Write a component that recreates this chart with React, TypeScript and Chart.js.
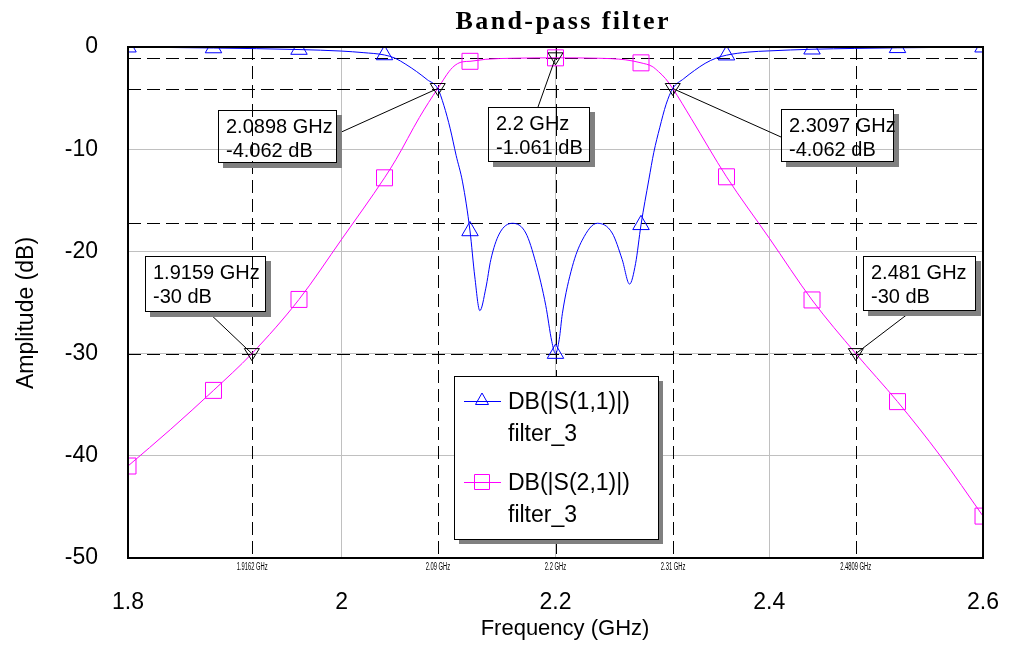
import React, { useEffect, useRef } from 'react';
import { Chart, registerables } from 'chart.js';

Chart.register(...registerables);

// ---------- data ----------
const s11Freq = [1.8, 1.84, 1.88, 1.92, 1.96, 2.0, 2.02, 2.04, 2.05, 2.06, 2.07, 2.08, 2.0898, 2.0955, 2.1015, 2.107, 2.113, 2.12, 2.1245, 2.1292, 2.1348, 2.1395, 2.1473, 2.1597, 2.1722, 2.1815, 2.1909, 2.1965, 2.2, 2.2035, 2.2064, 2.2157, 2.225, 2.239, 2.253, 2.2624, 2.2693, 2.2749, 2.28, 2.2873, 2.292, 2.2975, 2.3035, 2.3097, 2.32, 2.33, 2.34, 2.35, 2.36, 2.38, 2.4, 2.44, 2.48, 2.52, 2.56, 2.6];
const s11Db = [-0.02, -0.05, -0.1, -0.16, -0.25, -0.4, -0.55, -0.78, -1.1, -1.7, -2.4, -3.2, -4.062, -5.7, -8.0, -10.6, -13.2, -18.0, -22.5, -25.8, -23.6, -20.8, -18.3, -17.25, -18.2, -21.1, -25.3, -28.8, -30.0, -28.6, -26.1, -21.5, -18.9, -17.25, -18.2, -20.8, -23.2, -21.2, -17.4, -13.0, -10.3, -7.9, -5.6, -4.062, -3.1, -2.3, -1.6, -1.1, -0.8, -0.5, -0.38, -0.22, -0.14, -0.08, -0.04, -0.02];

const s21Freq = [1.8, 1.84, 1.88, 1.9159, 1.96, 2.0, 2.04, 2.0508, 2.0726, 2.0898, 2.1037, 2.113, 2.12, 2.1348, 2.16, 2.2, 2.24, 2.2652, 2.28, 2.2904, 2.2963, 2.303, 2.3097, 2.327, 2.36, 2.4, 2.44, 2.481, 2.52, 2.56, 2.6];
const s21Db = [-41.0, -37.4, -33.6, -30.0, -24.7, -18.8, -12.8, -11.0, -6.9, -4.062, -2.0, -1.45, -1.4, -1.2, -1.1, -1.061, -1.1, -1.25, -1.55, -1.9, -2.4, -3.1, -4.062, -7.0, -12.7, -18.7, -24.75, -30.0, -34.7, -40.0, -45.9];

// frequencies where the trace symbols are drawn
const symbolFreqs = [1.8, 1.88, 1.96, 2.04, 2.12, 2.2, 2.28, 2.36, 2.44, 2.52, 2.6];

const xTickValues = [1.8, 2.0, 2.2, 2.4, 2.6];
const xTickLabels = ['1.8', '2', '2.2', '2.4', '2.6'];
const yTickValues = [-50, -40, -30, -20, -10, 0];
const yTickLabels = ['-50', '-40', '-30', '-20', '-10', '0'];

const markerFreqs = [2.0898, 2.2, 2.3097, 1.9159, 2.481];
const markerDb = [-4.062, -1.061, -4.062, -30, -30];
const markerLine1 = ['2.0898 GHz', '2.2 GHz', '2.3097 GHz', '1.9159 GHz', '2.481 GHz'];
const markerLine2 = ['-4.062 dB', '-1.061 dB', '-4.062 dB', '-30 dB', '-30 dB'];

const refLineFreqs = [1.9162, 2.09, 2.2, 2.31, 2.4809];
const refLineLabels = ['1.9162 GHz', '2.09 GHz', '2.2 GHz', '2.31 GHz', '2.4809 GHz'];
const refLineDb = [-1.061, -4.062, -17.25, -30];

const legendNames = ['DB(|S(1,1)|)', 'DB(|S(2,1)|)'];
const legendSubs = ['filter_3', 'filter_3'];

const titleText = 'Band-pass filter';
const xTitle = 'Frequency (GHz)';
const yTitle = 'Amplitude (dB)';

// ---------- styles / layout ----------
const SANS = '"Liberation Sans", Arial, sans-serif';
const SERIF = '"Liberation Serif", "Times New Roman", serif';
const BLUE = '#0000ff';
const MAGENTA = '#ff00ff';
const GRID = '#c0c0c0';

const calloutBoxes = [
  { x: 218, y: 110, w: 118, h: 52, ax: 337, ay: 134 },
  { x: 488, y: 107, w: 101, h: 54, ax: 538, ay: 107 },
  { x: 781, y: 109, w: 112, h: 52, ax: 781, ay: 137 },
  { x: 145, y: 256, w: 120, h: 55, ax: 207, ay: 311 },
  { x: 863, y: 256, w: 112, h: 54, ax: 913, ay: 310 },
];
const legendBox = { x: 454, y: 376, w: 204, h: 163 };

const isSymbol = (v: number) => symbolFreqs.some((f) => Math.abs(f - v) < 1e-9);

const overlayPlugin = {
  id: 'overlay',
  beforeDatasetsDraw(chart: any) {
    const { ctx, chartArea: ca, scales } = chart;
    const x = scales.x;
    const y = scales.y;
    ctx.save();
    ctx.beginPath();
    ctx.rect(ca.left, ca.top, ca.right - ca.left, ca.bottom - ca.top);
    ctx.clip();
    ctx.strokeStyle = '#000';
    ctx.lineWidth = 1;
    ctx.setLineDash([13, 6]);
    refLineFreqs.forEach((f) => {
      const px = Math.round(x.getPixelForValue(f)) + 0.5;
      ctx.beginPath();
      ctx.moveTo(px, ca.top);
      ctx.lineTo(px, ca.bottom);
      ctx.stroke();
    });
    refLineDb.forEach((d) => {
      const py = Math.round(y.getPixelForValue(d)) + 0.5;
      ctx.beginPath();
      ctx.moveTo(ca.left, py);
      ctx.lineTo(ca.right, py);
      ctx.stroke();
    });
    ctx.restore();
  },
  afterDraw(chart: any) {
    const { ctx, chartArea: ca, scales } = chart;
    const x = scales.x;
    const y = scales.y;
    ctx.save();

    // frame
    ctx.strokeStyle = '#000';
    ctx.lineWidth = 2;
    ctx.setLineDash([]);
    ctx.strokeRect(ca.left, ca.top, ca.right - ca.left, ca.bottom - ca.top);

    // small reference labels under the axis
    ctx.fillStyle = '#000';
    ctx.font = `10px ${SANS}`;
    ctx.textAlign = 'center';
    ctx.textBaseline = 'middle';
    refLineLabels.forEach((lab, i) => {
      const px = x.getPixelForValue(refLineFreqs[i]);
      ctx.save();
      ctx.translate(px, 567);
      ctx.scale(0.58, 1);
      ctx.fillText(lab, 0, 0);
      ctx.restore();
    });

    // markers + callouts
    ctx.lineWidth = 1;
    markerFreqs.forEach((f, i) => {
      const px = x.getPixelForValue(f);
      const py = y.getPixelForValue(markerDb[i]);
      const b = calloutBoxes[i];
      ctx.strokeStyle = '#000';
      ctx.beginPath();
      ctx.moveTo(b.ax, b.ay);
      ctx.lineTo(px, py);
      ctx.stroke();
      ctx.beginPath();
      ctx.moveTo(px - 7.5, py - 5);
      ctx.lineTo(px + 7.5, py - 5);
      ctx.lineTo(px, py + 7);
      ctx.closePath();
      ctx.stroke();
      ctx.fillStyle = '#808080';
      ctx.fillRect(b.x + b.w + 1, b.y + 5, 5, b.h);
      ctx.fillRect(b.x + 5, b.y + b.h + 1, b.w + 1, 5);
      ctx.strokeRect(b.x + 0.5, b.y + 0.5, b.w, b.h);
      ctx.fillStyle = '#000';
      ctx.font = `20px ${SANS}`;
      ctx.textAlign = 'left';
      ctx.textBaseline = 'alphabetic';
      ctx.fillText(markerLine1[i], b.x + 8, b.y + 23);
      ctx.fillText(markerLine2[i], b.x + 8, b.y + 47);
    });

    // legend
    const L = legendBox;
    ctx.fillStyle = '#808080';
    ctx.fillRect(L.x + 5, L.y + 5, L.w, L.h);
    ctx.fillStyle = '#fff';
    ctx.fillRect(L.x, L.y, L.w, L.h);
    ctx.strokeStyle = '#000';
    ctx.lineWidth = 1;
    ctx.strokeRect(L.x + 0.5, L.y + 0.5, L.w, L.h);
    const rows = [L.y + 25, L.y + 106];
    const colors = [BLUE, MAGENTA];
    rows.forEach((ry, i) => {
      ctx.strokeStyle = colors[i];
      ctx.beginPath();
      ctx.moveTo(L.x + 10, ry + 0.5);
      ctx.lineTo(L.x + 47, ry + 0.5);
      ctx.stroke();
      const cx = L.x + 28;
      ctx.beginPath();
      if (i === 0) {
        ctx.moveTo(cx - 6.5, ry + 3.5);
        ctx.lineTo(cx + 6.5, ry + 3.5);
        ctx.lineTo(cx, ry - 8);
        ctx.closePath();
      } else {
        ctx.rect(cx - 7.5, ry - 7.5, 15, 15);
      }
      ctx.stroke();
      ctx.fillStyle = '#000';
      ctx.font = `23px ${SANS}`;
      ctx.textAlign = 'left';
      ctx.textBaseline = 'alphabetic';
      ctx.fillText(legendNames[i], L.x + 54, ry + 8);
      ctx.fillText(legendSubs[i], L.x + 54, ry + 40);
    });

    // axis titles
    ctx.fillStyle = '#000';
    ctx.font = `22px ${SANS}`;
    ctx.textAlign = 'center';
    ctx.textBaseline = 'alphabetic';
    ctx.fillText(xTitle, 565, 635);
    ctx.save();
    ctx.translate(33, 313);
    ctx.rotate(-Math.PI / 2);
    ctx.font = `23px ${SANS}`;
    ctx.fillText(yTitle, 0, 0);
    ctx.restore();

    // chart title
    ctx.font = `bold 26px ${SERIF}`;
    ctx.textAlign = 'left';
    const w0 = ctx.measureText(titleText).width;
    const spacing = Math.max(0, (213 - w0) / (titleText.length - 1));
    if ('letterSpacing' in ctx) (ctx as any).letterSpacing = `${spacing}px`;
    ctx.fillText(titleText, 562 - 213 / 2, 29);
    if ('letterSpacing' in ctx) (ctx as any).letterSpacing = '0px';

    ctx.restore();
  },
};

export default function App() {
  const canvasRef = useRef<HTMLCanvasElement | null>(null);

  useEffect(() => {
    const canvas = canvasRef.current;
    if (!canvas) return;
    const pointRadiusFor = (r: number) => (c: any) => (c.raw && isSymbol(c.raw.x) ? r : 0);
    const chart = new Chart(canvas, {
      type: 'line',
      data: {
        datasets: [
          {
            label: legendNames[0],
            data: s11Freq.map((f, i) => ({ x: f, y: s11Db[i] })),
            borderColor: BLUE,
            borderWidth: 1,
            pointStyle: 'triangle',
            pointRadius: pointRadiusFor(9.5) as any,
            pointBorderColor: BLUE,
            pointBackgroundColor: 'rgba(0,0,0,0)',
            pointBorderWidth: 1,
            cubicInterpolationMode: 'monotone',
            fill: false,
          },
          {
            label: legendNames[1],
            data: s21Freq.map((f, i) => ({ x: f, y: s21Db[i] })),
            borderColor: MAGENTA,
            borderWidth: 1,
            pointStyle: 'rect',
            pointRadius: pointRadiusFor(11.3) as any,
            pointBorderColor: MAGENTA,
            pointBackgroundColor: 'rgba(0,0,0,0)',
            pointBorderWidth: 1,
            cubicInterpolationMode: 'monotone',
            fill: false,
          },
        ],
      },
      options: {
        responsive: false,
        animation: false,
        events: [],
        layout: { padding: { top: 47, right: 45, left: 0, bottom: 0 } },
        plugins: {
          legend: { display: false },
          title: { display: false },
          tooltip: { enabled: false },
        },
        scales: {
          x: {
            type: 'linear',
            min: 1.8,
            max: 2.6,
            afterFit: (s: any) => {
              s.height = 102;
            },
            afterBuildTicks: (s: any) => {
              s.ticks = xTickValues.map((v) => ({ value: v }));
            },
            ticks: {
              callback: (_v: any, i: number) => xTickLabels[i],
              font: { family: SANS, size: 23 },
              color: '#000',
              padding: 31,
              maxRotation: 0,
              autoSkip: false,
            },
            grid: { color: GRID, lineWidth: 1, drawTicks: false },
            border: { display: false },
          },
          y: {
            type: 'linear',
            min: -50,
            max: 0,
            afterFit: (s: any) => {
              s.width = 128;
            },
            afterBuildTicks: (s: any) => {
              s.ticks = yTickValues.map((v) => ({ value: v }));
            },
            ticks: {
              callback: (_v: any, i: number) => yTickLabels[i],
              font: { family: SANS, size: 23 },
              color: '#000',
              padding: 30,
              autoSkip: false,
            },
            grid: { color: GRID, lineWidth: 1, drawTicks: false },
            border: { display: false },
          },
        },
      },
      plugins: [overlayPlugin],
    } as any);
    return () => chart.destroy();
  }, []);

  return (
    <div style={{ position: 'absolute', left: 0, top: 0, width: 1030, height: 660, background: '#fff' }}>
      <canvas ref={canvasRef} width={1030} height={660} style={{ display: 'block' }} />
    </div>
  );
}
